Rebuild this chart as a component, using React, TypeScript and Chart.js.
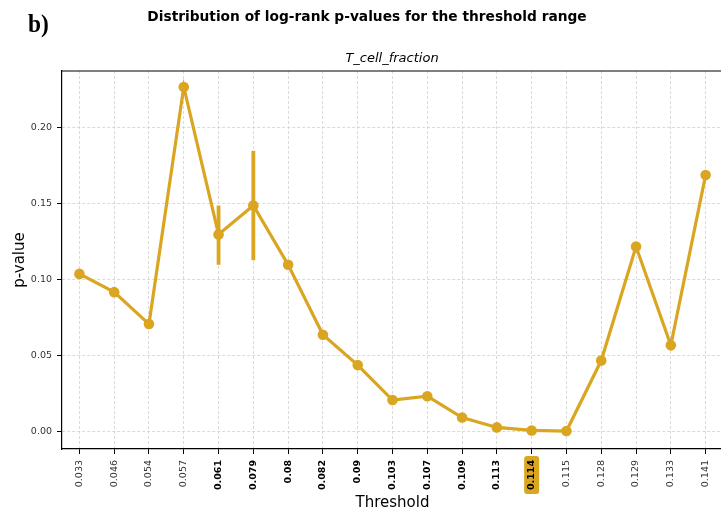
import React, { useEffect, useRef } from "react";
import { Chart, registerables } from "chart.js";

Chart.register(...registerables);

const thresholds = ["0.033", "0.046", "0.054", "0.057", "0.061", "0.079", "0.08", "0.082", "0.09", "0.103", "0.107", "0.109", "0.113", "0.114", "0.115", "0.128", "0.129", "0.133", "0.141"];
const pValues = [0.104, 0.092, 0.071, 0.227, 0.130, 0.149, 0.110, 0.064, 0.044, 0.021, 0.0235, 0.0095, 0.003, 0.001, 0.0006, 0.047, 0.122, 0.057, 0.169];
const errLow: (number | null)[] = [null, null, null, null, 0.110, 0.113, null, null, null, null, null, null, null, null, null, null, null, null, null];
const errHigh: (number | null)[] = [null, null, null, null, 0.149, 0.185, null, null, null, null, null, null, null, null, null, null, null, null, null];
const significant = ["0.061", "0.079", "0.08", "0.082", "0.09", "0.103", "0.107", "0.109", "0.113", "0.114"];
const bestThreshold = "0.114";
const yTicks = [0, 0.05, 0.1, 0.15, 0.2];

const COLOR = "#DAA520";
const FONT = "DejaVu Sans";

export default function App() {
  const ref = useRef<HTMLCanvasElement | null>(null);

  useEffect(() => {
    if (!ref.current) return;

    const errorBars = {
      id: "errorBars",
      afterDatasetsDraw(chart: any) {
        const { ctx, scales } = chart;
        ctx.save();
        ctx.strokeStyle = COLOR;
        ctx.lineWidth = 3.8;
        ctx.lineCap = "butt";
        thresholds.forEach((_, i) => {
          const lo = errLow[i];
          const hi = errHigh[i];
          if (lo == null || hi == null) return;
          const x = scales.x.getPixelForValue(i);
          ctx.beginPath();
          ctx.moveTo(x, scales.y.getPixelForValue(lo));
          ctx.lineTo(x, scales.y.getPixelForValue(hi));
          ctx.stroke();
        });
        ctx.restore();
      },
    };

    const highlight = {
      id: "highlight",
      beforeDraw(chart: any) {
        const { ctx, scales, chartArea } = chart;
        const i = thresholds.indexOf(bestThreshold);
        if (i < 0) return;
        ctx.save();
        ctx.font = `bold 9.5px '${FONT}'`;
        const w = ctx.measureText(bestThreshold).width;
        const x = scales.x.getPixelForTick(i);
        const top = chartArea.bottom + 7;
        const h = w + 8;
        const bw = 15;
        ctx.fillStyle = COLOR;
        ctx.beginPath();
        (ctx as any).roundRect(x - bw / 2, top, bw, h, 3);
        ctx.fill();
        ctx.restore();
      },
    };

    const spines = {
      id: "spines",
      afterDraw(chart: any) {
        const { ctx, chartArea } = chart;
        ctx.save();
        ctx.strokeStyle = "#000";
        ctx.lineWidth = 1.2;
        ctx.beginPath();
        ctx.moveTo(chartArea.left, chartArea.top);
        ctx.lineTo(chartArea.right, chartArea.top);
        ctx.lineTo(chartArea.right, chartArea.bottom);
        ctx.stroke();
        ctx.restore();
      },
    };

    const gridOpts = {
      color: "#d0d0d0",
      lineWidth: 0.8,
      tickColor: "#000",
      tickBorderDash: [],
      tickWidth: 1,
      tickLength: 5,
    };

    const chart = new Chart(ref.current, {
      type: "line",
      data: {
        labels: thresholds,
        datasets: [
          {
            data: pValues,
            borderColor: COLOR,
            backgroundColor: COLOR,
            borderWidth: 3.2,
            pointRadius: 5.3,
            pointBorderWidth: 0,
            pointBackgroundColor: COLOR,
            tension: 0,
          },
        ],
      },
      options: {
        responsive: false,
        animation: false,
        devicePixelRatio: 1,
        layout: { autoPadding: false, padding: { top: 71, right: 2, left: 0, bottom: 0 } },
        plugins: { legend: { display: false }, tooltip: { enabled: false } },
        scales: {
          x: {
            type: "category",
            offset: true,
            afterFit: (s: any) => {
              s.height = 63;
              s.paddingLeft = 0;
              s.paddingRight = 0;
            },
            border: { color: "#000", width: 1.2, dash: [3, 2] },
            grid: { ...gridOpts, offset: false },
            ticks: {
              autoSkip: false,
              minRotation: 90,
              maxRotation: 90,
              padding: 6,
              color: (c: any) => (significant.includes(thresholds[c.index]) ? "#000" : "#333"),
              font: (c: any) => ({
                family: FONT,
                size: 9.5,
                weight: significant.includes(thresholds[c.index]) ? "bold" : "normal",
              }),
            },
            title: {
              display: true,
              text: "Threshold",
              color: "#000",
              font: { family: FONT, size: 15 },
              padding: { top: 0, bottom: 0 },
            },
          },
          y: {
            min: -0.0112,
            max: 0.2375,
            afterFit: (s: any) => {
              s.width = 62;
              s.paddingTop = 0;
              s.paddingBottom = 0;
            },
            afterBuildTicks: (s: any) => {
              s.ticks = yTicks.map((v) => ({ value: v }));
            },
            border: { color: "#000", width: 1.2, dash: [3, 2] },
            grid: gridOpts,
            ticks: {
              padding: 5,
              color: "#333",
              font: { family: FONT, size: 9.5 },
              callback: (v: any) => Number(v).toFixed(2),
            },
            title: {
              display: true,
              text: "p-value",
              color: "#000",
              font: { family: FONT, size: 15 },
              padding: { top: 11, bottom: 0 },
            },
          },
        },
      },
      plugins: [highlight, errorBars, spines],
    });

    return () => chart.destroy();
  }, []);

  return (
    <div style={{ position: "fixed", left: 0, top: 0, width: 721, height: 512, overflow: "hidden", background: "#fff" }}>
      <canvas ref={ref} width={725} height={512} style={{ width: 725, height: 512, display: "block" }} />
      <div
        style={{
          position: "absolute",
          left: 28,
          top: 11,
          fontFamily: "'Liberation Serif', serif",
          fontWeight: "bold",
          fontSize: 26,
          lineHeight: 1,
          transform: "scaleX(0.9)",
          transformOrigin: "left top",
          whiteSpace: "nowrap",
          color: "#000",
        }}
      >
        b)
      </div>
      <div
        style={{
          position: "absolute",
          left: 367,
          top: 10.2,
          transform: "translateX(-50%)",
          fontFamily: `'${FONT}', sans-serif`,
          fontWeight: "bold",
          fontSize: 13.75,
          lineHeight: 1,
          whiteSpace: "nowrap",
          color: "#000",
        }}
      >
        Distribution of log-rank p-values for the threshold range
      </div>
      <div
        style={{
          position: "absolute",
          left: 392,
          top: 50.7,
          transform: "translateX(-50%)",
          fontFamily: `'${FONT}', sans-serif`,
          fontStyle: "italic",
          fontSize: 13,
          lineHeight: 1,
          whiteSpace: "nowrap",
          color: "#000",
        }}
      >
        T_cell_fraction
      </div>
    </div>
  );
}
